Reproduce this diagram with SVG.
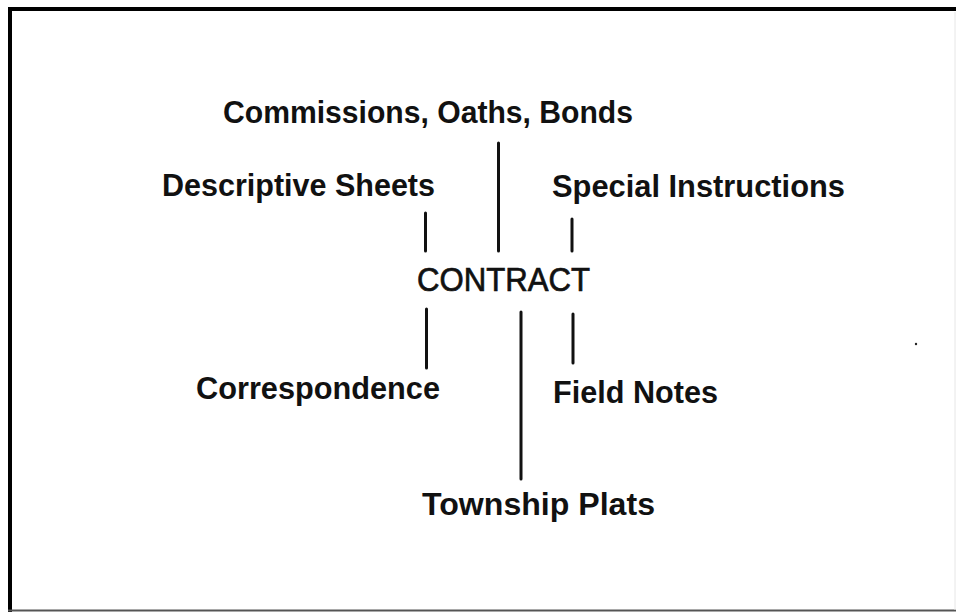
<svg xmlns="http://www.w3.org/2000/svg" width="956" height="612" viewBox="0 0 956 612">
  <style>
    .lbl { font-family: "Liberation Sans", Arial, sans-serif; font-weight: bold; font-size: 31.5px; fill: #111; }
    .hub { font-family: "Liberation Sans", Arial, sans-serif; font-weight: normal; font-size: 34px; fill: #111; stroke: #111; stroke-width: 0.7px; }
    .conn line { stroke: #111; stroke-width: 3; stroke-linecap: round; }
  </style>
  <rect x="0" y="0" width="956" height="612" fill="#ffffff"/>
  <g id="frame">
    <line x1="8" y1="9" x2="956" y2="9" stroke="#000" stroke-width="4"/>
    <line x1="10" y1="7" x2="10" y2="612" stroke="#000" stroke-width="4"/>
    <line x1="8" y1="610.5" x2="956" y2="610.5" stroke="#555" stroke-width="2"/>
    <line x1="955" y1="12" x2="955" y2="610" stroke="#e6e6e6" stroke-width="1"/>
  </g>
  <g id="connectors" class="conn">
    <line x1="498.5" y1="143" x2="498.5" y2="251"/>
    <line x1="425.5" y1="213" x2="425.5" y2="251"/>
    <line x1="572" y1="219" x2="572" y2="251"/>
    <line x1="426.5" y1="309" x2="426.5" y2="368"/>
    <line x1="521" y1="312" x2="521" y2="479"/>
    <line x1="573" y1="314" x2="573" y2="363"/>
  </g>
  <g id="contract"><text class="hub" x="417" y="291" textLength="173" lengthAdjust="spacingAndGlyphs">CONTRACT</text></g>
  <g id="commissions"><text class="lbl" x="223" y="123" textLength="410" lengthAdjust="spacingAndGlyphs">Commissions, Oaths, Bonds</text></g>
  <g id="descriptive"><text class="lbl" x="162" y="196" textLength="273" lengthAdjust="spacingAndGlyphs">Descriptive Sheets</text></g>
  <g id="special"><text class="lbl" x="552" y="197" textLength="293" lengthAdjust="spacingAndGlyphs">Special Instructions</text></g>
  <g id="correspondence"><text class="lbl" x="196" y="399" textLength="244" lengthAdjust="spacingAndGlyphs">Correspondence</text></g>
  <g id="fieldnotes"><text class="lbl" x="553" y="403" textLength="165" lengthAdjust="spacingAndGlyphs">Field Notes</text></g>
  <g id="township"><text class="lbl" x="422" y="515" textLength="233" lengthAdjust="spacingAndGlyphs">Township Plats</text></g>
  <circle cx="916" cy="344" r="1.2" fill="#222"/>
</svg>
